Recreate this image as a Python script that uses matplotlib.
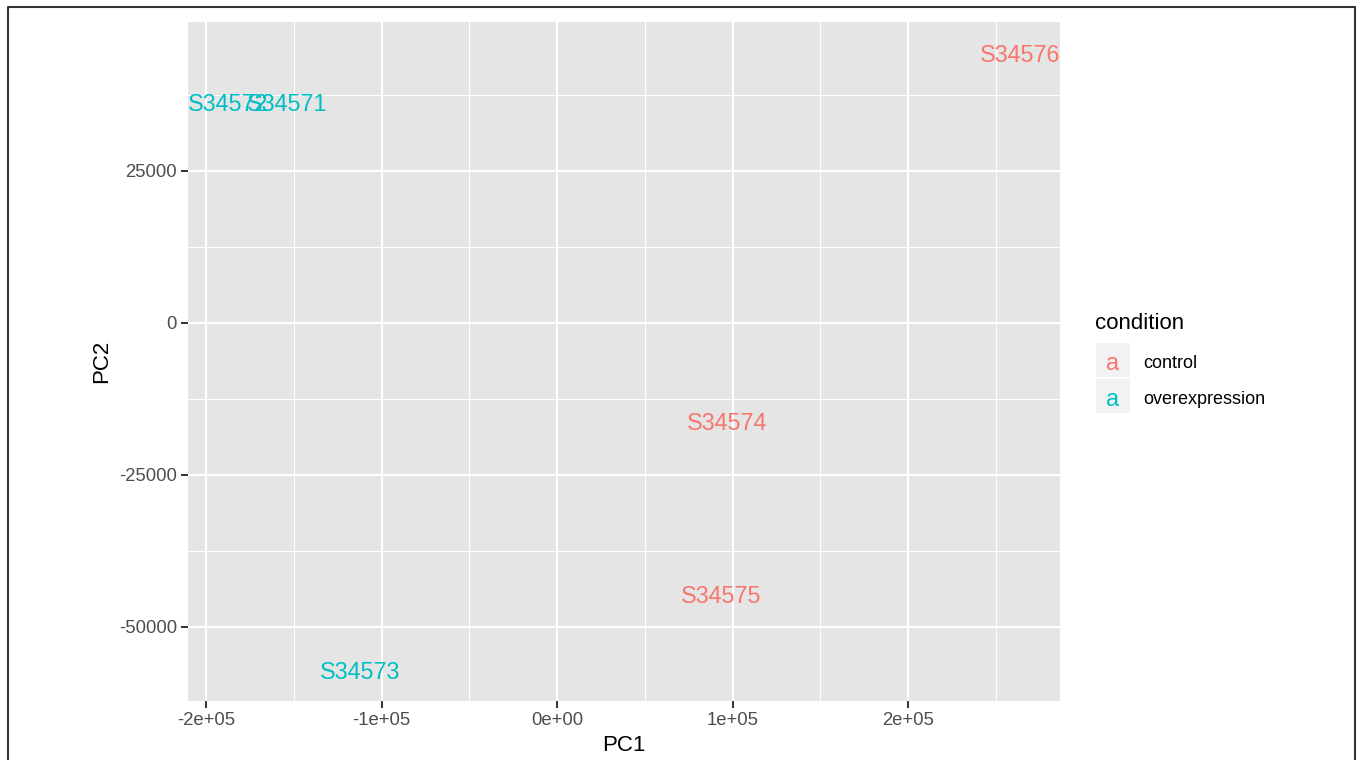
import matplotlib.pyplot as plt
from matplotlib.patches import Rectangle
from matplotlib.lines import Line2D
import numpy as np

plt.rcParams['font.family'] = ['Liberation Sans', 'DejaVu Sans']

# PCA scores
samples = ['S34571', 'S34572', 'S34573', 'S34574', 'S34575', 'S34576']
pc1 = [-153800, -187700, -112300, 96900, 93400, 264000]
pc2 = [36350, 36350, -57100, -16100, -44500, 44430]
condition = ['overexpression', 'overexpression', 'overexpression',
             'control', 'control', 'control']
levels = ['control', 'overexpression']
colors = {'control': '#F8766D', 'overexpression': '#00BFC4'}

xticks = [-2e5, -1e5, 0, 1e5, 2e5]
xticklabels = ['-2e+05', '-1e+05', '0e+00', '1e+05', '2e+05']
yticks = [-50000, -25000, 0, 25000]
yticklabels = ['-50000', '-25000', '0', '25000']

W, H = 1360, 760
fig = plt.figure(figsize=(W / 100, H / 100), dpi=100)
ax = fig.add_axes([188 / W, 1 - 701 / H, (1060 - 188) / W, (701 - 22) / H])
ax.set_facecolor('#E5E5E5')

# ggplot-like 5% expansion
xr = max(pc1) - min(pc1)
yr = max(pc2) - min(pc2)
ax.set_xlim(min(pc1) - 0.05 * xr, max(pc1) + 0.05 * xr)
ax.set_ylim(min(pc2) - 0.05 * yr, max(pc2) + 0.05 * yr)

ax.set_xticks(xticks)
ax.set_xticklabels(xticklabels)
ax.set_yticks(yticks)
ax.set_yticklabels(yticklabels)
ax.set_xticks([2.5e5] + list(np.array(xticks[:-1]) + 5e4), minor=True)
ax.set_yticks([37500, 12500, -12500, -37500], minor=True)
ax.grid(which='major', color='white', linewidth=1.6)
ax.grid(which='minor', color='white', linewidth=0.8)
ax.set_axisbelow(True)
for s in ax.spines.values():
    s.set_visible(False)
ax.tick_params(which='major', length=5, width=1.4, color='#333333',
               labelsize=13.3, labelcolor='#4D4D4D', pad=3)
ax.tick_params(which='minor', length=0)

for name, x, y, c in zip(samples, pc1, pc2, condition):
    ax.text(x, y, name, color=colors[c], fontsize=16.8, ha='center',
            va='center_baseline')

ax.set_xlabel('PC1', fontsize=16, labelpad=4)
ax.set_ylabel('PC2', fontsize=16, labelpad=5)

# legend drawn as ggplot-style text keys
fig.text(1095 / W, 1 - 321 / H, 'condition', fontsize=16, va='center_baseline', ha='left')
for i, lev in enumerate(levels):
    top = 343 + i * 36
    fig.add_artist(Rectangle((1096 / W, 1 - (top + 34) / H), 34 / W, 34 / H,
                             transform=fig.transFigure, facecolor='#F2F2F2',
                             edgecolor='none'))
    fig.text(1113 / W, 1 - (top + 18) / H, 'a', color=colors[lev], fontsize=16.8,
             ha='center', va='center_baseline')
    fig.text(1143 / W, 1 - (top + 18) / H, lev, fontsize=13, ha='left',
             va='center_baseline')

# screenshot frame
fig.add_artist(Line2D([8 / W, 8 / W, 1355 / W, 1355 / W], [0, 1 - 7 / H, 1 - 7 / H, 0],
                      transform=fig.transFigure, color='#333333', linewidth=1.5))

fig.savefig('out.png', dpi=100)
